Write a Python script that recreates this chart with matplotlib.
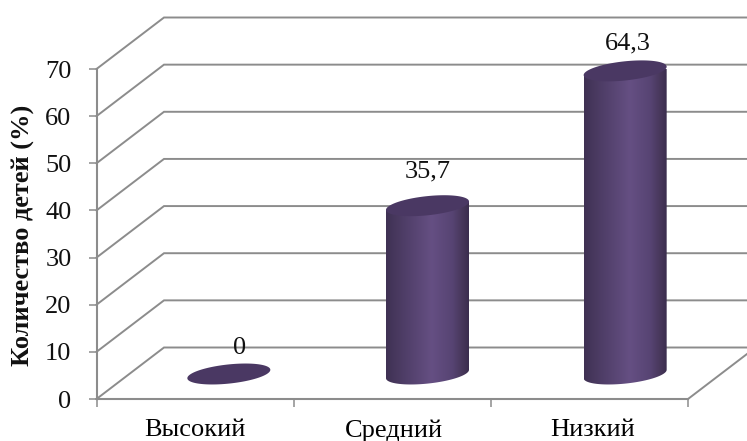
import numpy as np
import matplotlib
matplotlib.use("Agg")
import matplotlib.pyplot as plt
from matplotlib.colors import LinearSegmentedColormap
from matplotlib.patches import Polygon
from matplotlib.transforms import ScaledTranslation

plt.rcParams["font.family"] = ["Liberation Serif", "DejaVu Serif"]

categories = ["Высокий", "Средний", "Низкий"]
values = [0, 35.7, 64.3]
value_labels = ["0", "35,7", "64,3"]
y_ticks = [0, 10, 20, 30, 40, 50, 60, 70]
y_title = "Количество детей (%)"

W, H = 747, 441
LEFT, RIGHT, BOTTOM, TOP = 96.5, 688.0, 399.0, 69.0
GRID = "#8c8c8c"

fig = plt.figure(figsize=(W / 100, H / 100), dpi=100, facecolor="white")
ax = fig.add_axes([LEFT / W, 1 - BOTTOM / H, (RIGHT - LEFT) / W, (BOTTOM - TOP) / H])
ax.set_xlim(0, 3)
ax.set_ylim(0, 70)
ax.patch.set_visible(False)

# Pixel-to-data scales for the oblique projection
px_x = 3 / (RIGHT - LEFT)
px_y = 70 / (BOTTOM - TOP)
depth_x = 67.5 * px_x
depth_y = 51.5 * px_y

# Floor, wall and gridlines
for v in y_ticks:
    ax.plot([0, depth_x, 3 + depth_x], [v, v + depth_y, v + depth_y],
            color=GRID, lw=1.4, clip_on=False, zorder=1, solid_joinstyle="miter")
ax.plot([0, 3, 3 + depth_x], [0, 0, depth_y], color=GRID, lw=1.4, clip_on=False, zorder=1)

for side in ("top", "right"):
    ax.spines[side].set_visible(False)
for side in ("left", "bottom"):
    ax.spines[side].set_color(GRID)
    ax.spines[side].set_linewidth(1.5)

ax.set_xticks([0, 1, 2, 3])
ax.set_xticklabels([])
ax.set_xticks([0.5, 1.5, 2.5], labels=categories, minor=True)
ax.set_yticks(y_ticks)
ax.tick_params(axis="x", which="major", length=5.5, width=1.1, color=GRID)
ax.tick_params(axis="x", which="minor", length=0, pad=14.5, labelsize=19)
ax.tick_params(axis="y", length=5.5, width=1.1, color=GRID, pad=12.5, labelsize=19)
for lab in ax.get_yticklabels():
    lab.set_color("#111111")
# Nudge the outer category labels a little to the right
for lab, nudge_px in zip(ax.get_xticklabels(minor=True), [0, 2, 3]):
    lab.set_transform(lab.get_transform() + ScaledTranslation(nudge_px / 100, 0, fig.dpi_scale_trans))
fig.text(23 / W, 1 - 235 / H, y_title, rotation=90, ha="center", va="center",
         fontsize=19, fontweight="bold", color="#111111")

# Cylinders with a horizontal shading band and a sheared elliptical cap
half_w = 41.5 * px_x
cap_b = 9.6 * px_y
cap_s = 4.2 * px_y
shade = LinearSegmentedColormap.from_list(
    "cyl", [(0, "#3f3153"), (0.15, "#4a3a61"), (0.55, "#654f83"),
            (0.8, "#574473"), (0.93, "#463659"), (1, "#3b2d4e")])
gradient = np.linspace(0, 1, 256).reshape(1, -1)
t = np.linspace(0, 2 * np.pi, 181)
bar_shift_px = [0.0, 1.5, 2.0]
label_dx = [11, 0, 3]
label_dy = [26, 34, 27]

for i, v in enumerate(values):
    cx = i + 0.5 + depth_x / 2 + bar_shift_px[i] * px_x
    cy = v + 25 * px_y
    ex = cx + half_w * np.cos(t)
    ey_off = cap_b * np.sin(t) + cap_s * np.cos(t)
    if v > 0:
        lower = t[(t >= np.pi) & (t <= 2 * np.pi)]
        bx = cx + half_w * np.cos(lower)
        by = 25 * px_y + cap_b * np.sin(lower) + cap_s * np.cos(lower)
        outline = np.column_stack([np.r_[cx - half_w, bx, cx + half_w],
                                   np.r_[cy - cap_s, by, cy + cap_s]])
        body = Polygon(outline, closed=True, transform=ax.transData,
                       facecolor="none", edgecolor="none")
        ax.add_patch(body)
        im = ax.imshow(gradient, cmap=shade, aspect="auto", zorder=3,
                       extent=[cx - half_w, cx + half_w, 0, cy + 2 * cap_b],
                       interpolation="bilinear")
        im.set_clip_path(body)
        ax.set_xlim(0, 3)
        ax.set_ylim(0, 70)
    ax.fill(ex, cy + ey_off, color="#4a3863", lw=0, zorder=4, clip_on=False)
    ax.annotate(value_labels[i], (cx, cy), xytext=(label_dx[i] * 0.72, label_dy[i] * 0.72),
                textcoords="offset points", ha="center", va="center",
                fontsize=19, color="#111111", zorder=5)

fig.savefig("out.png", dpi=100)
